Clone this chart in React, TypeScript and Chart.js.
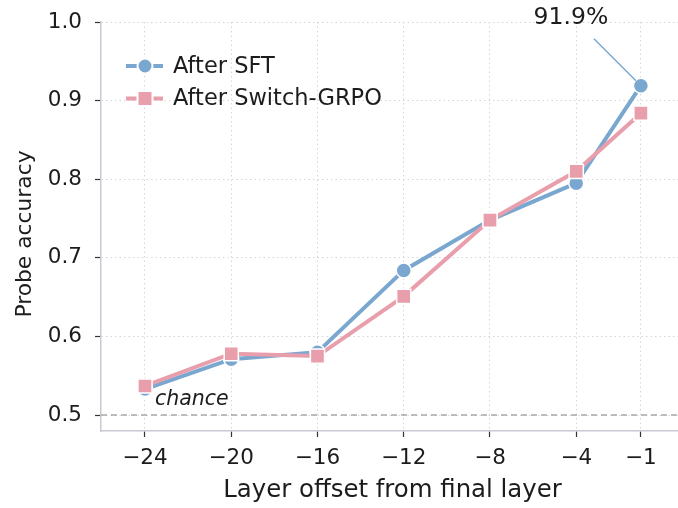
import React, { useEffect, useRef } from "react";
import { Chart, registerables } from "chart.js";

Chart.register(...registerables);

// ---- data ----
const layerOffsets = [-24, -20, -16, -12, -8, -4, -1];
const sftAccuracy = [0.533, 0.571, 0.58, 0.684, 0.748, 0.795, 0.919];
const grpoAccuracy = [0.537, 0.578, 0.575, 0.651, 0.748, 0.81, 0.884];
const seriesLabels = ["After SFT", "After Switch-GRPO"];
const xTickValues = [-24, -20, -16, -12, -8, -4, -1];
const yTickValues = [0.5, 0.6, 0.7, 0.8, 0.9, 1.0];
const chanceLevel = 0.5;
const chanceLabel = "chance";
const peakLabel = "91.9%";
const xTitle = "Layer offset from final layer";
const yTitle = "Probe accuracy";

// ---- styles ----
const BLUE = "#79a7cf";
const PINK = "#e89eab";
const FONT = "'DejaVu Sans', sans-serif";
const TEXT = "#1c1c1c";
const GRID = "#d6d6d6";

const W = 678;
const H = 508;

const overlayPlugin = {
  id: "overlay",
  beforeDatasetsDraw(chart: any) {
    const { ctx, chartArea, scales } = chart;
    const y = scales.y.getPixelForValue(chanceLevel);
    ctx.save();
    ctx.strokeStyle = "#a9a9a9";
    ctx.lineWidth = 1.5;
    ctx.setLineDash([6, 4]);
    ctx.beginPath();
    ctx.moveTo(chartArea.left, y);
    ctx.lineTo(chartArea.right, y);
    ctx.stroke();
    ctx.restore();
  },
  afterDatasetsDraw(chart: any) {
    const { ctx, scales } = chart;
    ctx.save();
    // chance label
    const cx = scales.x.getPixelForValue(layerOffsets[0]) + 10;
    const cy = scales.y.getPixelForValue(chanceLevel) - 10;
    ctx.font = `italic 20.5px ${FONT}`;
    ctx.fillStyle = TEXT;
    ctx.textAlign = "left";
    ctx.textBaseline = "alphabetic";
    ctx.fillText(chanceLabel, cx, cy);

    // peak annotation
    const last = layerOffsets.length - 1;
    const px = scales.x.getPixelForValue(layerOffsets[last]);
    const py = scales.y.getPixelForValue(sftAccuracy[last]);
    ctx.strokeStyle = BLUE;
    ctx.lineWidth = 1.4;
    ctx.beginPath();
    ctx.moveTo(px - 47, py - 47);
    ctx.lineTo(px - 5, py - 5);
    ctx.stroke();
    ctx.font = `23.5px ${FONT}`;
    ctx.textAlign = "center";
    ctx.textBaseline = "middle";
    ctx.fillText(peakLabel, px - 70, py - 68);

    // legend
    const colors = [BLUE, PINK];
    seriesLabels.forEach((label, i) => {
      const ly = 66 + i * 32.5;
      ctx.strokeStyle = colors[i];
      ctx.lineWidth = 4;
      ctx.beginPath();
      ctx.moveTo(126, ly);
      ctx.lineTo(163, ly);
      ctx.stroke();
      ctx.fillStyle = colors[i];
      ctx.strokeStyle = "#ffffff";
      ctx.lineWidth = 2;
      ctx.beginPath();
      if (i === 0) {
        ctx.arc(145, ly, 7.5, 0, Math.PI * 2);
      } else {
        ctx.rect(145 - 7.5, ly - 7.5, 15, 15);
      }
      ctx.fill();
      ctx.stroke();
      ctx.fillStyle = TEXT;
      ctx.font = `22.5px ${FONT}`;
      ctx.textAlign = "left";
      ctx.textBaseline = "middle";
      ctx.fillText(label, 173, ly + 1);
    });

    // axis titles
    ctx.fillStyle = TEXT;
    ctx.font = `24.4px ${FONT}`;
    ctx.textAlign = "center";
    ctx.textBaseline = "middle";
    ctx.fillText(xTitle, (chart.chartArea.left + chart.chartArea.right) / 2 + 3, 491);
    ctx.save();
    ctx.translate(25, 234);
    ctx.rotate(-Math.PI / 2);
    ctx.font = `21.8px ${FONT}`;
    ctx.fillText(yTitle, 0, 0);
    ctx.restore();
    ctx.restore();
  },
};

export default function App() {
  const canvasRef = useRef<HTMLCanvasElement | null>(null);

  useEffect(() => {
    const canvas = canvasRef.current;
    if (!canvas) return;
    const chart = new Chart(canvas, {
      type: "line",
      data: {
        datasets: [
          {
            label: seriesLabels[0],
            data: layerOffsets.map((x, i) => ({ x, y: sftAccuracy[i] })),
            borderColor: BLUE,
            backgroundColor: BLUE,
            borderWidth: 4,
            pointStyle: "circle",
            pointRadius: 7.5,
            pointBorderColor: "#ffffff",
            pointBorderWidth: 1.5,
            pointBackgroundColor: BLUE,
            order: 2,
            clip: false,
          },
          {
            label: seriesLabels[1],
            data: layerOffsets.map((x, i) => ({ x, y: grpoAccuracy[i] })),
            borderColor: PINK,
            backgroundColor: PINK,
            borderWidth: 4,
            pointStyle: "rect",
            pointRadius: 10,
            pointBorderColor: "#ffffff",
            pointBorderWidth: 1.5,
            pointBackgroundColor: PINK,
            order: 1,
            clip: false,
          },
        ],
      },
      options: {
        responsive: false,
        animation: false,
        devicePixelRatio: 1,
        layout: { autoPadding: false, padding: { left: 0, top: 22, right: 0, bottom: 0 } },
        plugins: {
          legend: { display: false },
          tooltip: { enabled: false },
        },
        scales: {
          x: {
            type: "linear",
            min: -26.04,
            max: 0.72,
            afterBuildTicks: (s: any) => {
              s.ticks = xTickValues.map((v) => ({ value: v }));
            },
            afterFit: (s: any) => {
              s.height = 77;
              s.paddingLeft = 0;
              s.paddingRight = 0;
            },
            grid: {
              color: GRID,
              lineWidth: 1,
              tickColor: "#333333",
              tickLength: 6,
              tickWidth: 1.2,
            },
            border: { display: true, color: "#c8cad4", width: 1.5, dash: [1.5, 3] },
            ticks: {
              font: { family: FONT, size: 21.5 },
              color: TEXT,
              padding: 9,
              maxRotation: 0,
              autoSkip: false,
              callback: (v: any) => (v < 0 ? "\u2212" + Math.abs(v) : String(v)),
            },
          },
          y: {
            type: "linear",
            min: 0.4797,
            max: 1.0,
            afterBuildTicks: (s: any) => {
              s.ticks = yTickValues.map((v) => ({ value: v }));
            },
            afterFit: (s: any) => {
              s.width = 101;
              s.paddingTop = 0;
              s.paddingBottom = 0;
            },
            grid: {
              color: GRID,
              lineWidth: 1,
              tickColor: "#333333",
              tickLength: 6,
              tickWidth: 1.2,
            },
            border: { display: true, color: "#c8cad4", width: 1.5, dash: [1.5, 3] },
            ticks: {
              font: { family: FONT, size: 21.5 },
              color: TEXT,
              padding: 13,
              autoSkip: false,
              callback: (v: any) => Number(v).toFixed(1),
            },
          },
        },
      },
      plugins: [overlayPlugin],
    });
    return () => chart.destroy();
  }, []);

  return (
    <div style={{ position: "absolute", left: 0, top: 0, width: W, height: H, background: "#ffffff" }}>
      <canvas ref={canvasRef} width={W} height={H} style={{ display: "block", width: W, height: H }} />
    </div>
  );
}
